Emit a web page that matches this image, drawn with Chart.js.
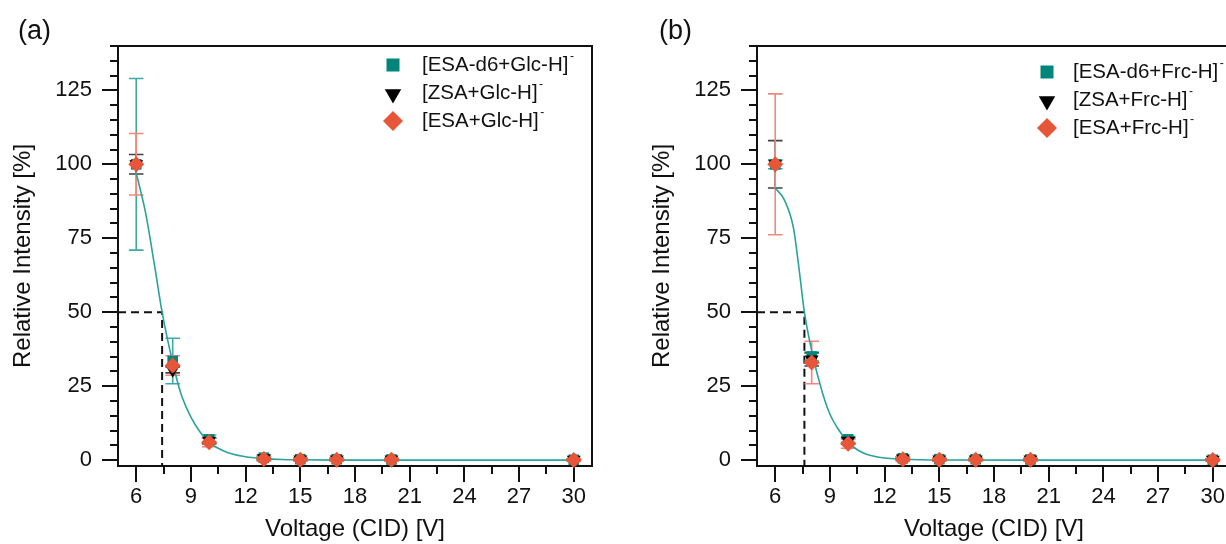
<!DOCTYPE html>
<html><head><meta charset="utf-8">
<script src="https://cdn.jsdelivr.net/npm/chart.js@4.4.1/dist/chart.umd.min.js"></script>
<style>
html,body{margin:0;padding:0;background:#fff;overflow:hidden;}
#wrap{position:relative;width:1226px;height:544px;overflow:hidden;background:#fff;}
.panel{position:absolute;top:0;width:620px;height:544px;}
canvas{display:block;}
</style></head><body>
<div id="wrap">
  <div class="panel" style="left:0px"><canvas id="ca" width="620" height="544"></canvas></div>
  <div class="panel" style="left:639px"><canvas id="cb" width="620" height="544"></canvas></div>
</div>
<script>
// ---------- data ----------
const VOLTAGES = [6, 8, 10, 13, 15, 17, 20, 30];
const X_TICKS = [6, 9, 12, 15, 18, 21, 24, 27, 30];
const Y_TICKS = [0, 25, 50, 75, 100, 125];
const X_MIN = 5, X_MAX = 31, Y_MIN = -2, Y_MAX = 140;

// panel (a): glucose adducts
const A_LABELS = ['[ESA-d6+Glc-H]', '[ZSA+Glc-H]', '[ESA+Glc-H]'];
const A_D6      = [100, 33.5, 7.0, 0.8, 0.3, 0.3, 0.2, 0.1];
const A_D6_ERR  = [29, 7.7, 1.5, 0.8, 0.4, 0.4, 0.3, 0.3];
const A_ZSA     = [100, 30.5, 6.5, 0.6, 0.2, 0.2, 0.2, 0.1];
const A_ZSA_ERR = [3.3, 1.0, 1.0, 0.5, 0.3, 0.3, 0.3, 0.3];
const A_ESA     = [100, 32.0, 6.0, 0.4, 0.1, 0.1, 0.1, 0.0];
const A_ESA_ERR = [10.4, 3.3, 1.5, 0.8, 0.5, 0.5, 0.5, 0.5];
const A_FIT_X = [6, 6.5, 7, 7.42, 8, 8.45, 9, 9.5, 10, 10.5, 11, 12, 13, 14, 15, 17, 20, 30];
const A_FIT_Y = [97, 84, 66, 50, 33, 22.5, 14.5, 9.5, 6, 4, 2.6, 1.1, 0.5, 0.2, 0.1, 0, 0, 0];
const A_HALF_V = 7.42, A_HALF_Y = 50;

// panel (b): fructose adducts
const B_LABELS = ['[ESA-d6+Frc-H]', '[ZSA+Frc-H]', '[ESA+Frc-H]'];
const B_D6      = [100, 35.0, 7.0, 0.6, 0.3, 0.3, 0.2, 0.1];
const B_D6_ERR  = [1.5, 1.5, 1.0, 0.5, 0.3, 0.3, 0.3, 0.3];
const B_ZSA     = [100, 34.0, 6.5, 0.5, 0.2, 0.2, 0.2, 0.1];
const B_ZSA_ERR = [8.0, 2.2, 1.0, 0.5, 0.3, 0.3, 0.3, 0.3];
const B_ESA     = [100, 33.0, 5.5, 0.3, 0.1, 0.1, 0.1, 0.0];
const B_ESA_ERR = [23.8, 7.2, 1.5, 0.8, 0.5, 0.5, 0.5, 0.5];
const B_FIT_X = [6, 6.5, 7, 7.3, 7.6, 8, 8.6, 9, 9.4, 10, 10.5, 11, 12, 13, 15, 20, 30];
const B_FIT_Y = [92, 88, 78.5, 65, 50, 37, 22.5, 15.5, 11, 6, 3.5, 2, 0.7, 0.3, 0.05, 0, 0];
const B_HALF_V = 7.6, B_HALF_Y = 50;

// ---------- styling ----------
const FONT = '"Liberation Sans", Arial, Helvetica, sans-serif';
const INK = '#111111';
const TEAL = '#00857b', TEAL_ERR = '#3fa9a3', TEAL_LINE = '#2aa39b';
const BLACK = '#000000', BLACK_ERR = 'rgba(45,45,45,0.9)';
const ORANGE = '#e8563a', ORANGE_ERR = '#f2887a';
const CAP = 0.4; // half cap width in x units

Chart.defaults.font.family = FONT;
Chart.defaults.color = INK;

function toPts(xs, ys) { return xs.map((x, i) => ({x: x, y: ys[i]})); }
function errPts(xs, ys, es) {
  const p = [];
  xs.forEach((x, i) => {
    const hi = ys[i] + es[i], lo = ys[i] - es[i];
    p.push({x: x - CAP, y: hi}, {x: x + CAP, y: hi}, {x: x, y: null},
           {x: x, y: hi}, {x: x, y: lo}, {x: x, y: null},
           {x: x - CAP, y: lo}, {x: x + CAP, y: lo}, {x: x, y: null});
  });
  return p;
}
function ticksFrom(arr) { return s => { s.ticks = arr.map(v => ({value: v})); }; }
function stepList(a, b, st) { const r = []; for (let v = a; v <= b + 1e-9; v += st) r.push(+v.toFixed(4)); return r; }

function makeScales() {
  const tickFont = {family: FONT, size: 22};
  const titleFont = {family: FONT, size: 24};
  const blank = {display: false};
  return {
    x: {type: 'linear', position: 'bottom', weight: 1, min: X_MIN, max: X_MAX, bounds: 'data',
        afterBuildTicks: ticksFrom(X_TICKS), afterFit: s => { s.height = 78; },
        ticks: {font: tickFont, color: INK, padding: 2, autoSkip: false, maxRotation: 0, minRotation: 0, callback: v => String(v)},
        grid: {drawOnChartArea: false, drawTicks: true, tickLength: 16, lineWidth: 2, color: INK},
        border: {display: true, width: 2, color: INK},
        title: {display: true, text: 'Voltage (CID) [V]', font: titleFont, color: INK, padding: {top: 0, bottom: 0}}},
    xMinor: {type: 'linear', position: 'bottom', weight: 0, min: X_MIN, max: X_MAX, bounds: 'data',
        afterBuildTicks: ticksFrom(stepList(6, 30, 1.5)), afterFit: s => { s.height = 0; },
        ticks: blank,
        grid: {drawOnChartArea: false, drawTicks: true, tickLength: 8, lineWidth: 2, color: INK},
        border: {display: false}},
    xTop: {type: 'linear', position: 'top', min: X_MIN, max: X_MAX, bounds: 'data',
        afterBuildTicks: ticksFrom(X_TICKS), afterFit: s => { s.height = 0; },
        ticks: blank, grid: {display: false, drawOnChartArea: false, drawTicks: false},
        border: {display: true, width: 2, color: INK}},
    y: {type: 'linear', position: 'left', weight: 1, min: Y_MIN, max: Y_MAX, bounds: 'data',
        afterBuildTicks: ticksFrom(Y_TICKS), afterFit: s => { s.width = 118; },
        ticks: {font: tickFont, color: INK, padding: 10, autoSkip: false, callback: v => String(v)},
        grid: {drawOnChartArea: false, drawTicks: true, tickLength: 16, lineWidth: 2, color: INK},
        border: {display: true, width: 2, color: INK},
        title: {display: true, text: 'Relative Intensity [%]', font: titleFont, color: INK, padding: {top: 9, bottom: 0}}},
    yMinor: {type: 'linear', position: 'left', weight: 0, min: Y_MIN, max: Y_MAX, bounds: 'data',
        afterBuildTicks: ticksFrom(stepList(0, 140, 5)), afterFit: s => { s.width = 0; },
        ticks: blank,
        grid: {drawOnChartArea: false, drawTicks: true, tickLength: 8, lineWidth: 2, color: INK},
        border: {display: false}},
    yRight: {type: 'linear', position: 'right', min: Y_MIN, max: Y_MAX, bounds: 'data',
        afterBuildTicks: ticksFrom(Y_TICKS), afterFit: s => { s.width = 0; },
        ticks: blank, grid: {display: false, drawOnChartArea: false, drawTicks: false},
        border: {display: true, width: 2, color: INK}}
  };
}

function lineDs(data, color, width, order, extra) {
  return Object.assign({type: 'scatter', data: data, showLine: true, borderColor: color, backgroundColor: color,
    borderWidth: width, pointRadius: 0, pointHoverRadius: 0, tension: 0, order: order, spanGaps: false}, extra || {});
}
function markerDs(label, xs, ys, style, radius, rotation, color, order) {
  return {type: 'scatter', label: label, data: toPts(xs, ys), showLine: false,
    pointStyle: style, pointRadius: radius, pointHoverRadius: radius, pointRotation: rotation,
    backgroundColor: color, borderColor: color, pointBorderWidth: 0, borderWidth: 0, order: order, clip: 12};
}

function overlay(cfg) {
  return {
    id: 'overlay',
    afterDraw(chart) {
      const ctx = chart.ctx, area = chart.chartArea;
      ctx.save();
      ctx.fillStyle = INK;
      ctx.textAlign = 'left';
      ctx.textBaseline = 'middle';
      ctx.font = '27px ' + FONT;
      ctx.fillText(cfg.tag, cfg.tagX, cfg.tagY);
      const shapes = [
        {pointStyle: 'rect', radius: 9.2, rotation: 0, color: TEAL},
        {pointStyle: 'triangle', radius: 9.5, rotation: 180, color: BLACK},
        {pointStyle: 'rectRot', radius: 10, rotation: 0, color: ORANGE}
      ];
      cfg.labels.forEach((lab, i) => {
        const y = area.top + cfg.legTop + i * cfg.legGap;
        const sh = shapes[i];
        ctx.fillStyle = sh.color;
        Chart.helpers.drawPoint(ctx, {pointStyle: sh.pointStyle, radius: sh.radius, rotation: sh.rotation, borderWidth: 0},
          area.left + cfg.markX, y + (i === 1 ? 1 : 0));
        ctx.fillStyle = INK;
        ctx.font = '20.5px ' + FONT;
        const tx = area.left + cfg.textX;
        ctx.fillText(lab, tx, y);
        const w = ctx.measureText(lab).width;
        ctx.font = '12px ' + FONT;
        ctx.fillText('-', tx + w + 1.5, y - 8);
      });
      ctx.restore();
    }
  };
}

function build(canvasId, d, cfg) {
  const datasets = [
    markerDs(d.labels[2], VOLTAGES, d.esa, 'rectRot', 8, 0, ORANGE, 0),
    markerDs(d.labels[1], VOLTAGES, d.zsa, 'triangle', 8, 180, BLACK, 1),
    markerDs(d.labels[0], VOLTAGES, d.d6, 'rect', 7.5, 0, TEAL, 2),
    lineDs(toPts(d.fitX, d.fitY), TEAL_LINE, 1.6, 3, {cubicInterpolationMode: 'monotone'}),
    lineDs(errPts(VOLTAGES, d.esa, d.esaErr), ORANGE_ERR, 1.6, 4),
    lineDs(errPts(VOLTAGES, d.zsa, d.zsaErr), BLACK_ERR, 1.6, 5),
    lineDs(errPts(VOLTAGES, d.d6, d.d6Err), TEAL_ERR, 1.6, 6),
    lineDs([{x: X_MIN, y: d.halfY}, {x: d.halfV, y: d.halfY}, {x: d.halfV, y: Y_MIN}], INK, 2, 7, {borderDash: [8, 5]})
  ];
  return new Chart(document.getElementById(canvasId), {
    type: 'scatter',
    data: {datasets: datasets},
    options: {
      responsive: false, animation: false, events: [],
      layout: {padding: {left: 0, top: 46, right: 28, bottom: 0}},
      plugins: {legend: {display: false}, tooltip: {enabled: false}, title: {display: false}},
      scales: makeScales()
    },
    plugins: [overlay(cfg)]
  });
}

build('ca', {labels: A_LABELS, d6: A_D6, d6Err: A_D6_ERR, zsa: A_ZSA, zsaErr: A_ZSA_ERR, esa: A_ESA, esaErr: A_ESA_ERR,
             fitX: A_FIT_X, fitY: A_FIT_Y, halfV: A_HALF_V, halfY: A_HALF_Y},
      {tag: '(a)', tagX: 18, tagY: 32, labels: A_LABELS, markX: 275, textX: 304, legTop: 19, legGap: 28});
build('cb', {labels: B_LABELS, d6: B_D6, d6Err: B_D6_ERR, zsa: B_ZSA, zsaErr: B_ZSA_ERR, esa: B_ESA, esaErr: B_ESA_ERR,
             fitX: B_FIT_X, fitY: B_FIT_Y, halfV: B_HALF_V, halfY: B_HALF_Y},
      {tag: '(b)', tagX: 20, tagY: 32, labels: B_LABELS, markX: 290, textX: 316, legTop: 26, legGap: 28});
</script>
</body></html>
